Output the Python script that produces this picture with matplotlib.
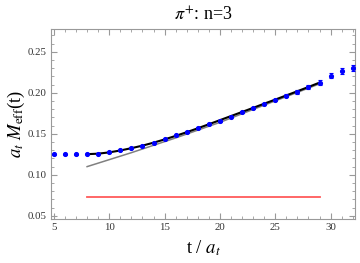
import numpy as np
import matplotlib
matplotlib.use('Agg')
import matplotlib.pyplot as plt
from matplotlib.ticker import MultipleLocator

plt.rcParams['font.family'] = ['Liberation Serif', 'DejaVu Serif']
plt.rcParams['mathtext.fontset'] = 'stix'

# effective mass data
t = np.arange(5, 33)
meff = [0.1250, 0.1250, 0.1252, 0.1253, 0.1258, 0.1275, 0.1300, 0.1325, 0.1355,
        0.1390, 0.1435, 0.1480, 0.1524, 0.1577, 0.1626, 0.1659, 0.1711, 0.1765,
        0.1813, 0.1862, 0.1915, 0.1967, 0.2012, 0.2070, 0.2126, 0.2211, 0.2268,
        0.2301]
err = [0.0005] * 11 + [0.001] * 7 + [0.0015] * 4 + [0.002, 0.002, 0.0025,
                                                    0.003, 0.0035, 0.004]

# fit curve over the fit window
t_fit = np.arange(8, 30)
m_fit = [0.1252, 0.1258, 0.1274, 0.1297, 0.1325, 0.1356, 0.1392, 0.1432, 0.1475,
         0.1520, 0.1568, 0.1617, 0.1667, 0.1717, 0.1767, 0.1817, 0.1868, 0.1918,
         0.1969, 0.2020, 0.2072, 0.2125]

# gray reference curve
t_gray = [8, 12, 16, 20, 24, 29]
m_gray = [0.110, 0.127, 0.145, 0.164, 0.185, 0.211]

# red level
t_red = [8, 29]
m_red = [0.0735, 0.0735]

fig = plt.figure(figsize=(3.6, 2.63), dpi=100)
ax = fig.add_axes([0.142, 0.167, 0.844, 0.723])

ax.plot(t_red, m_red, color='#ff5a5a', lw=1.3)
ax.plot(t_gray, m_gray, color='#808080', lw=1.1)
ax.plot(t_fit, m_fit, color='black', lw=1.5)
ax.errorbar(t, meff, yerr=err, fmt='o', color='#0000ff', ms=2.7,
            elinewidth=0.8, capsize=1.4, capthick=0.8, zorder=5)

ax.set_xlim(4.75, 32.2)
ax.set_ylim(0.046, 0.278)
ax.xaxis.set_major_locator(MultipleLocator(5))
ax.xaxis.set_minor_locator(MultipleLocator(1))
ax.yaxis.set_major_locator(MultipleLocator(0.05))
ax.yaxis.set_minor_locator(MultipleLocator(0.01))
ax.yaxis.set_major_formatter(matplotlib.ticker.FormatStrFormatter('%.2f'))

for s in ax.spines.values():
    s.set_color('#999999')
    s.set_linewidth(0.8)
ax.tick_params(which='both', direction='in', top=True, right=True,
               color='#999999', labelsize=7.8, labelcolor='#333333', pad=3)
ax.tick_params(which='major', length=4)
ax.tick_params(which='minor', length=2)

ax.set_title(r'$\pi^{+}$: n=3', fontsize=13, pad=6)
ax.set_ylabel(r'$a_t\ M_{\rm eff}$(t)', fontsize=13.5, labelpad=1)
ax.set_xlabel(r't / $a_t$', fontsize=13.5, labelpad=4)

fig.savefig('out.png', dpi=100)
